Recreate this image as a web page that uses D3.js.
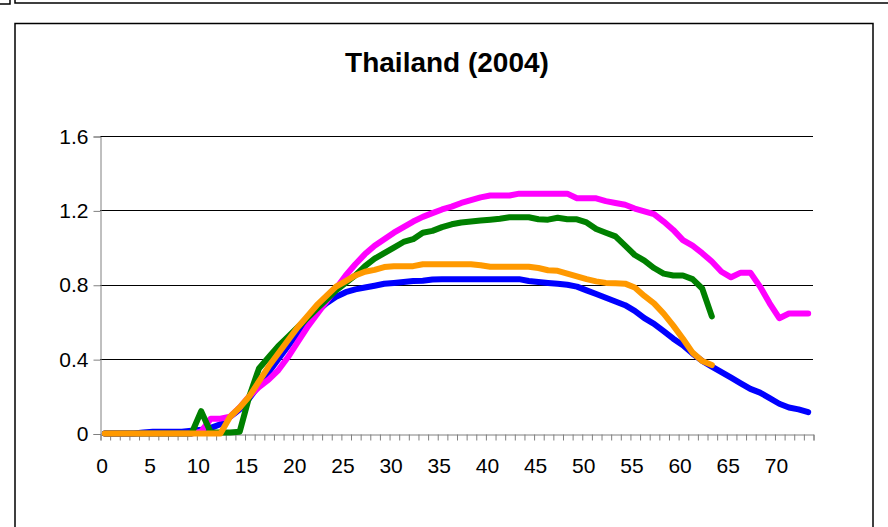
<!DOCTYPE html>
<html><head><meta charset="utf-8">
<script src="https://cdn.jsdelivr.net/npm/d3@7"></script>
<style>html,body{margin:0;padding:0;background:#fff;}svg{display:block;}</style>
</head><body>
<svg id="c" width="888" height="527"></svg>
<script>
const title = "Thailand (2004)";
const xTickLabels = ["0","5","10","15","20","25","30","35","40","45","50","55","60","65","70"];
const yTicks = [0, 0.4, 0.8, 1.2, 1.6];
const categories = d3.range(0, 74);

const blue = [0,0,0,0,0.005,0.01,0.01,0.01,0.01,0.015,0.02,0.03,0.05,0.09,0.13,0.19,0.26,0.33,0.4,0.47,
 0.54,0.6,0.655,0.7,0.735,0.76,0.775,0.785,0.795,0.805,0.81,0.815,0.82,0.822,0.828,0.83,0.83,0.83,0.83,0.83,
 0.83,0.83,0.83,0.83,0.82,0.815,0.81,0.805,0.8,0.79,0.77,0.75,0.73,0.71,0.69,0.66,0.62,0.59,0.55,0.51,
 0.475,0.43,0.39,0.36,0.33,0.3,0.27,0.24,0.22,0.19,0.16,0.14,0.13,0.115];
const pink = [0,0,0,0,0,0,0,0,0,0,0.01,0.08,0.08,0.09,0.14,0.2,0.25,0.29,0.34,0.41,
 0.49,0.57,0.64,0.71,0.78,0.85,0.91,0.965,1.01,1.045,1.08,1.11,1.14,1.165,1.185,1.205,1.22,1.24,1.255,1.27,
 1.28,1.28,1.28,1.29,1.29,1.29,1.29,1.29,1.29,1.265,1.265,1.265,1.25,1.24,1.23,1.21,1.195,1.18,1.14,1.095,
 1.04,1.01,0.97,0.925,0.87,0.84,0.865,0.865,0.79,0.7,0.62,0.645,0.645,0.645];
const green = [0,0,0,0,0,0,0,0,0,0,0.12,0.005,0.005,0.005,0.01,0.2,0.35,0.41,0.47,0.52,
 0.57,0.62,0.67,0.72,0.77,0.81,0.85,0.9,0.94,0.97,1.0,1.03,1.045,1.08,1.09,1.11,1.125,1.135,1.14,1.145,
 1.15,1.155,1.163,1.163,1.163,1.152,1.15,1.16,1.152,1.152,1.135,1.1,1.08,1.06,1.01,0.96,0.93,0.89,0.86,0.85,
 0.85,0.83,0.78,0.63];
const orange = [0,0,0,0,0,0,0,0,0,0,0,0,0,0.09,0.14,0.2,0.28,0.36,0.43,0.5,
 0.57,0.63,0.69,0.74,0.79,0.82,0.85,0.87,0.88,0.895,0.9,0.9,0.9,0.91,0.91,0.91,0.91,0.91,0.91,0.905,
 0.897,0.897,0.897,0.897,0.897,0.89,0.878,0.875,0.86,0.845,0.83,0.818,0.81,0.808,0.806,0.785,0.74,0.7,0.645,0.58,
 0.51,0.435,0.39,0.368];
const seriesColors = ["#0000FF","#FF00FF","#008000","#FF9900"];

const svg = d3.select("#c");
const L = 100, R = 813, T = 136, B = 433.5;
const FONT = "Liberation Sans, Arial, sans-serif";

// frames
svg.append("rect").attr("x",15).attr("y",23.5).attr("width",858).attr("height",520)
  .attr("fill","none").attr("stroke","#000").attr("stroke-width",1.5);
svg.append("path").attr("d","M15,0V3H888").attr("fill","none").attr("stroke","#000").attr("stroke-width",1.5);
svg.append("path").attr("d","M0,4H10V0").attr("fill","none").attr("stroke","#000").attr("stroke-width",1.5);

const x = d3.scaleBand().domain(categories).range([L, R]).paddingInner(0).paddingOuter(0);
const xt = d3.scaleLinear().domain([0, categories.length]).range([L, R]);
const y = d3.scaleLinear().domain([0, 1.6]).range([B, T]);

// gridlines
svg.append("g").selectAll("line").data(yTicks.filter(d=>d>0)).join("line")
  .attr("x1", L).attr("x2", R)
  .attr("y1", d => Math.round(y(d))+0.5).attr("y2", d => Math.round(y(d))+0.5)
  .attr("stroke","#000").attr("stroke-width",1);

// y axis
const ya = svg.append("g").attr("transform",`translate(${L+0.5},0.5)`)
  .call(d3.axisLeft(y).tickValues(yTicks).tickSize(7).tickPadding(5).tickFormat(d => d===0 ? "0" : d3.format(".1f")(d)));
ya.selectAll("path").attr("stroke","#808080");
ya.selectAll("line").attr("stroke","#808080");
ya.selectAll("text").attr("font-family",FONT).attr("font-size",21).attr("fill","#000");

// x axis tick marks
const xa = svg.append("g").attr("transform",`translate(0.5,${Math.round(B)+0.5})`)
  .call(d3.axisBottom(xt).tickValues(d3.range(0, categories.length+1)).tickSize(6).tickFormat(""));
xa.selectAll("path").attr("stroke","#808080");
xa.selectAll("line").attr("stroke","#808080");

// x labels (placed at the tick marks, slightly right as in the reference)
const xl = svg.append("g").attr("transform",`translate(1.5,${Math.round(B)})`)
  .call(d3.axisBottom(xt).tickValues(xTickLabels.map(Number)).tickSize(0).tickPadding(24).tickFormat((d,i)=>xTickLabels[i]));
xl.select(".domain").remove();
xl.selectAll("text").attr("font-family",FONT).attr("font-size",21).attr("fill","#000");

// lines
const line = d3.line().x((d,i) => x(categories[i]) + x.bandwidth()/2).y(d => y(d));
[blue, pink, green, orange].forEach((s, k) => {
  svg.append("path").datum(s).attr("d", line)
    .attr("fill","none").attr("stroke", seriesColors[k]).attr("stroke-width",6)
    .attr("stroke-linejoin","round").attr("stroke-linecap","round");
});

// title
svg.append("text").attr("x",447).attr("y",72).attr("text-anchor","middle")
  .attr("font-family",FONT).attr("font-weight","bold").attr("font-size",28)
  .text(title);
</script>
</body></html>
